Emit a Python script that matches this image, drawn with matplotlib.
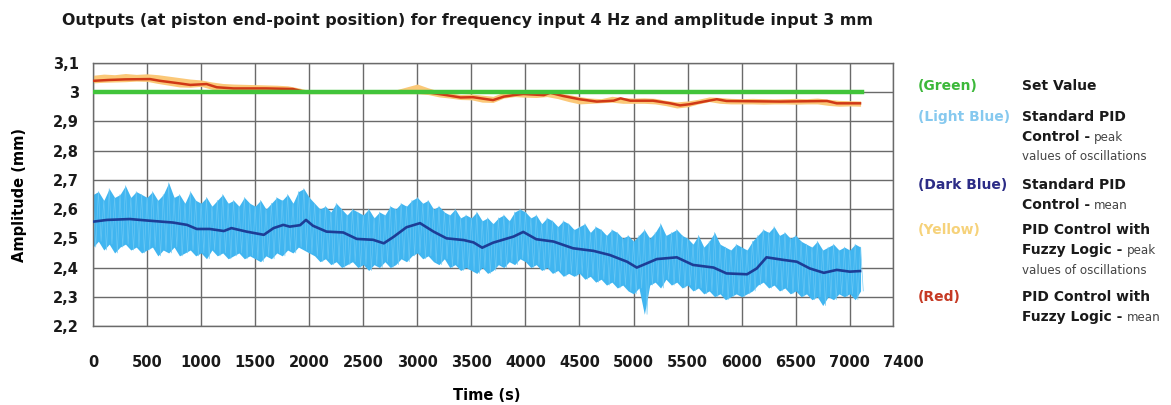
import numpy as np
import matplotlib
matplotlib.use("Agg")
import matplotlib.pyplot as plt
import matplotlib.transforms as mtransforms

# ---------------- data ----------------
x_ticks = [0, 500, 1000, 1500, 2000, 2500, 3000, 3500, 4000, 4500, 5000,
           5500, 6000, 6500, 7000, 7400]
y_ticks = [2.2, 2.3, 2.4, 2.5, 2.6, 2.7, 2.8, 2.9, 3.0, 3.1]
y_tick_labels = ["2,2", "2,3", "2,4", "2,5", "2,6", "2,7", "2,8", "2,9", "3", "3,1"]

set_time = [0, 7110]
set_value = [3.0, 3.0]

# Standard PID - mean (dark blue)
std_mean_t = [0, 130, 340, 500, 740, 870, 960, 1080, 1210, 1280, 1420, 1580,
              1670, 1760, 1820, 1915, 1970, 2035, 2160, 2315, 2440, 2590,
              2690, 2780, 2900, 3025, 3150, 3270, 3430, 3520, 3600, 3700,
              3890, 3980, 4100, 4260, 4440, 4630, 4780, 4940, 5030, 5120,
              5215, 5400, 5550, 5740, 5860, 6050, 6140, 6230, 6390, 6510,
              6630, 6760, 6880, 7000, 7095]
std_mean_v = [2.557, 2.563, 2.566, 2.561, 2.554, 2.546, 2.532, 2.532, 2.525,
              2.535, 2.523, 2.512, 2.535, 2.546, 2.540, 2.545, 2.563, 2.543,
              2.523, 2.520, 2.498, 2.495, 2.483, 2.505, 2.538, 2.552, 2.523,
              2.500, 2.494, 2.486, 2.468, 2.485, 2.506, 2.522, 2.497, 2.489,
              2.466, 2.457, 2.443, 2.420, 2.400, 2.414, 2.429, 2.435, 2.409,
              2.400, 2.380, 2.377, 2.397, 2.435, 2.426, 2.420, 2.397, 2.382,
              2.392, 2.386, 2.388]

# Standard PID - peak values of oscillations (light blue), every 50 s
std_peak_step = 50
std_peak_upper = [
    2.65, 2.66, 2.63, 2.67, 2.64, 2.65, 2.68, 2.64, 2.66, 2.65,
    2.64, 2.66, 2.63, 2.65, 2.69, 2.64, 2.65, 2.62, 2.66, 2.63,
    2.62, 2.64, 2.61, 2.63, 2.65, 2.62, 2.63, 2.61, 2.64, 2.62,
    2.61, 2.63, 2.60, 2.62, 2.64, 2.63, 2.65, 2.62, 2.66, 2.67,
    2.64, 2.62, 2.60, 2.61, 2.59, 2.62, 2.60, 2.58, 2.60, 2.59,
    2.58, 2.60, 2.57, 2.59, 2.58, 2.61, 2.60, 2.62, 2.61, 2.63,
    2.64, 2.62, 2.63, 2.60, 2.61, 2.59, 2.58, 2.60, 2.57, 2.58,
    2.57, 2.59, 2.56, 2.57, 2.55, 2.57, 2.58, 2.56, 2.59, 2.60,
    2.59, 2.57, 2.58, 2.55, 2.57, 2.56, 2.54, 2.56, 2.55, 2.53,
    2.54, 2.55, 2.52, 2.54, 2.53, 2.51, 2.53, 2.52, 2.50, 2.51,
    2.49, 2.51, 2.53, 2.50, 2.52, 2.55, 2.51, 2.52, 2.53, 2.51,
    2.50, 2.48, 2.51, 2.47, 2.49, 2.52, 2.48, 2.47, 2.46, 2.48,
    2.47, 2.46, 2.49, 2.51, 2.53, 2.52, 2.54, 2.51, 2.52, 2.50,
    2.51, 2.49, 2.48, 2.47, 2.49, 2.46, 2.47, 2.48, 2.46, 2.47,
    2.46, 2.48, 2.47]
std_peak_lower = [
    2.47, 2.49, 2.46, 2.48, 2.45, 2.47, 2.48, 2.46, 2.47, 2.45,
    2.46, 2.47, 2.44, 2.46, 2.45, 2.47, 2.44, 2.45, 2.46, 2.44,
    2.45, 2.43, 2.46, 2.44, 2.45, 2.43, 2.44, 2.45, 2.43, 2.44,
    2.43, 2.42, 2.44, 2.43, 2.45, 2.44, 2.46, 2.45, 2.47, 2.46,
    2.45, 2.44, 2.42, 2.43, 2.41, 2.42, 2.40, 2.41, 2.42, 2.40,
    2.41, 2.39, 2.41, 2.40, 2.42, 2.40, 2.41, 2.43, 2.42, 2.44,
    2.45, 2.43, 2.44, 2.42, 2.41, 2.43, 2.40, 2.41, 2.39, 2.40,
    2.39, 2.38, 2.40, 2.38, 2.39, 2.41, 2.40, 2.42, 2.41, 2.43,
    2.42, 2.40, 2.41, 2.39, 2.40, 2.38, 2.39, 2.37, 2.38, 2.37,
    2.38, 2.36, 2.37, 2.35, 2.36, 2.34, 2.35, 2.33, 2.34, 2.32,
    2.31, 2.33, 2.24, 2.34, 2.35, 2.33, 2.36, 2.34, 2.35, 2.33,
    2.34, 2.32, 2.33, 2.31, 2.32, 2.30, 2.31, 2.29, 2.30, 2.31,
    2.30, 2.31, 2.32, 2.34, 2.35, 2.33, 2.34, 2.32, 2.33, 2.31,
    2.32, 2.30, 2.31, 2.29, 2.30, 2.27, 2.30, 2.29, 2.31, 2.30,
    2.31, 2.29, 2.32]

# PID with Fuzzy Logic - mean (red)
fuzzy_mean_t = [0, 150, 300, 527, 620, 805, 900, 1050, 1145, 1300, 1600, 1850,
                1950, 2100, 2900, 3050, 3180, 3270, 3400, 3515, 3700, 3800,
                3890, 3980, 4170, 4230, 4350, 4500, 4660, 4815, 4880, 4970,
                5180, 5340, 5430, 5520, 5650, 5770, 5860, 6360, 6790, 6880,
                7095]
fuzzy_mean_v = [3.039, 3.042, 3.044, 3.045, 3.039, 3.030, 3.025, 3.028, 3.017,
                3.013, 3.013, 3.011, 3.002, 3.000, 3.000, 3.002, 2.995, 2.990,
                2.982, 2.983, 2.973, 2.985, 2.990, 2.994, 2.990, 2.998, 2.987,
                2.976, 2.968, 2.971, 2.979, 2.971, 2.971, 2.962, 2.955, 2.959,
                2.968, 2.976, 2.970, 2.968, 2.970, 2.962, 2.962]

# PID with Fuzzy Logic - peak values of oscillations (yellow), every 100 s
fuzzy_peak_step = 100
fuzzy_peak_upper = [
    3.058, 3.062, 3.060, 3.064, 3.061, 3.063, 3.060, 3.055, 3.050, 3.045,
    3.042, 3.035, 3.030, 3.028, 3.027, 3.026, 3.025, 3.024, 3.022, 3.015,
    3.006, 3.005, 3.004, 3.004, 3.005, 3.004, 3.006, 3.005, 3.008, 3.018,
    3.028, 3.015, 3.004, 2.998, 2.992, 2.994, 2.990, 2.986, 3.000, 3.004,
    3.005, 3.002, 3.008, 2.998, 2.992, 2.985, 2.980, 2.978, 2.986, 2.982,
    2.980, 2.981, 2.979, 2.972, 2.967, 2.970, 2.976, 2.984, 2.982, 2.979,
    2.978, 2.979, 2.978, 2.977, 2.978, 2.979, 2.978, 2.980, 2.976, 2.972,
    2.971, 2.970]
fuzzy_peak_lower = [
    3.032, 3.034, 3.035, 3.036, 3.038, 3.037, 3.030, 3.024, 3.018, 3.017,
    3.020, 3.010, 3.006, 3.005, 3.005, 3.006, 3.005, 3.005, 3.004, 2.997,
    2.995, 2.995, 2.995, 2.995, 2.995, 2.995, 2.995, 2.995, 2.995, 2.995,
    2.995, 2.992, 2.984, 2.980, 2.975, 2.974, 2.966, 2.965, 2.980, 2.985,
    2.983, 2.982, 2.985, 2.978, 2.968, 2.960, 2.962, 2.964, 2.966, 2.962,
    2.962, 2.962, 2.960, 2.954, 2.946, 2.950, 2.960, 2.968, 2.962, 2.960,
    2.960, 2.960, 2.959, 2.960, 2.960, 2.959, 2.960, 2.960, 2.955, 2.952,
    2.953, 2.952]


def interleave(upper, lower, step):
    t, v = [], []
    for i, (u, lo) in enumerate(zip(upper, lower)):
        t += [i * step, i * step + step / 2]
        v += [u, lo]
    return t, v


# ---------------- figure ----------------
W, H = 1171, 405
fig = plt.figure(figsize=(W / 100, H / 100), dpi=100)
ax = fig.add_axes([93 / W, 1 - 326 / H, 800 / W, 263 / H])

grid_c = "#6a6a6a"
for yv in y_ticks:
    ax.axhline(yv, color=grid_c, lw=1.0, zorder=1)
for xv in x_ticks:
    ax.axvline(xv, color=grid_c, lw=1.0, zorder=1)

# light blue: solid band between peaks + thin spikes
lb_time = [i * std_peak_step for i in range(len(std_peak_upper))]
ax.fill_between(lb_time, std_peak_lower, std_peak_upper, color="#40b5f0",
                lw=0, zorder=2)
lb_t, lb_v = interleave(std_peak_upper, std_peak_lower, std_peak_step)
ax.plot(lb_t, lb_v, color="#6cc8f4", lw=0.5, alpha=0.9, zorder=2)
ax.plot(std_mean_t, std_mean_v, color="#1d3d96", lw=1.9, zorder=3)

# yellow: halo around red
ye_time = [i * fuzzy_peak_step for i in range(len(fuzzy_peak_upper))]
ax.fill_between(ye_time, fuzzy_peak_lower, fuzzy_peak_upper, color="#fbc878",
                lw=0, zorder=2)
ax.plot(fuzzy_mean_t, fuzzy_mean_v, color="#d03816", lw=1.8, zorder=3)
ax.plot(set_time, set_value, color="#41c43a", lw=3.2, zorder=4)

ax.set_xlim(0, 7400)
ax.set_ylim(2.2, 3.1)
ax.set_xticks(x_ticks)
ax.set_xticklabels([str(v) for v in x_ticks])
ax.set_yticks(y_ticks)
ax.set_yticklabels(y_tick_labels)
ax.tick_params(axis="both", length=0, labelsize=10.5)
ax.tick_params(axis="x", pad=21)
ax.tick_params(axis="y", pad=10)
for lab in ax.get_xticklabels() + ax.get_yticklabels():
    lab.set_fontweight("bold")
    lab.set_color("#1a1a1a")
last = ax.get_xticklabels()[-1]
last.set_transform(last.get_transform() +
                   mtransforms.ScaledTranslation(10 / 100, 0, fig.dpi_scale_trans))
for s in ax.spines.values():
    s.set_color(grid_c)
    s.set_linewidth(1.0)

ax.set_ylabel("Amplitude (mm)", fontsize=10.5, fontweight="bold")
ax.yaxis.set_label_coords(-0.083, 0.5)
fig.text(487 / W, 1 - 395 / H, "Time (s)", ha="center", va="center",
         fontsize=10.5, fontweight="bold")
fig.text(62 / W, 1 - 20 / H,
         "Outputs (at piston end-point position) for frequency input 4 Hz and amplitude input 3 mm",
         ha="left", va="center", fontsize=11.4, fontweight="bold", color="#1a1a1a")

# ---------------- legend text ----------------
c1 = 918 / W
c2 = 1022 / W
bold_fs = 10
small_fs = 8.6
txt_c = "#1a1a1a"
small_c = "#444444"


def yy(p):
    return 1 - p / H


def line_with_suffix(y, bold, suffix):
    t = fig.text(c2, yy(y), bold, ha="left", va="baseline", fontsize=bold_fs,
                 fontweight="bold", color=txt_c)
    if suffix:
        ax.annotate(suffix, xy=(1, 0), xycoords=t, xytext=(3, 0),
                    textcoords="offset points", ha="left", va="bottom",
                    fontsize=small_fs, color=small_c, annotation_clip=False)
    return t


entries = [
    (90, "(Green)", "#3cb83a"),
    (121, "(Light Blue)", "#86c9ef"),
    (189, "(Dark Blue)", "#2c2c86"),
    (234, "(Yellow)", "#f6d27a"),
    (301, "(Red)", "#c63a24"),
]
for y, lab, col in entries:
    fig.text(c1, yy(y), lab, ha="left", va="baseline", fontsize=bold_fs,
             fontweight="bold", color=col)

line_with_suffix(90, "Set Value", None)
line_with_suffix(121, "Standard PID", None)
line_with_suffix(141, "Control -", "peak")
fig.text(c2, yy(160), "values of oscillations", ha="left", va="baseline",
         fontsize=small_fs, color=small_c)
line_with_suffix(189, "Standard PID", None)
line_with_suffix(209, "Control -", "mean")
line_with_suffix(234, "PID Control with", None)
line_with_suffix(254, "Fuzzy Logic -", "peak")
fig.text(c2, yy(274), "values of oscillations", ha="left", va="baseline",
         fontsize=small_fs, color=small_c)
line_with_suffix(301, "PID Control with", None)
line_with_suffix(321, "Fuzzy Logic -", "mean")

fig.savefig("out.png", dpi=100)
